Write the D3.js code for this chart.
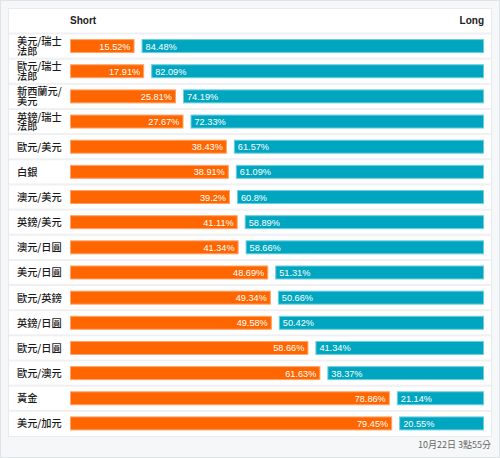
<!DOCTYPE html>
<html><head><meta charset="utf-8">
<script src="https://cdn.jsdelivr.net/npm/d3@7"></script>
<style>
body{margin:0;background:#fff;}
svg{display:block;}
</style></head>
<body>
<script>
const labels = [["美元/瑞士","法郎"],["歐元/瑞士","法郎"],["新西蘭元/","美元"],["英鎊/瑞士","法郎"],["歐元/美元"],["白銀"],["澳元/美元"],["英鎊/美元"],["澳元/日圓"],["美元/日圓"],["歐元/英鎊"],["英鎊/日圓"],["歐元/日圓"],["歐元/澳元"],["黃金"],["美元/加元"]];
const shortVals = [15.52,17.91,25.81,27.67,38.43,38.91,39.2,41.11,41.34,48.69,49.34,49.58,58.66,61.63,78.86,79.45];
const longVals = [84.48,82.09,74.19,72.33,61.57,61.09,60.8,58.89,58.66,51.31,50.66,50.42,41.34,38.37,21.14,20.55];
const headers = ["Short","Long"];
const stamp = "10月22日 3點55分";

const W=500,H=458;
const svg=d3.select("body").append("svg").attr("width",W).attr("height",H);
const font="'Noto Sans CJK TC','Liberation Sans',Arial,sans-serif";
svg.append("rect").attr("x",0.5).attr("y",0.5).attr("width",W-1).attr("height",H-1).attr("fill","#f5f7f8").attr("stroke","#dfe4e7");
svg.append("rect").attr("x",8.5).attr("y",8.5).attr("width",483).attr("height",428).attr("fill","#fff").attr("stroke","#e8ebed");

const x0=70,x1=484;
const x=d3.scaleLinear().domain([0,100]).range([0,403]);
const y=d3.scaleBand().domain(d3.range(labels.length)).range([33.5,436]).padding(0);

svg.append("text").attr("x",x0).attr("y",24).attr("font-family","'Liberation Sans',Arial,sans-serif").attr("font-weight","bold").attr("font-size",10).attr("fill","#222").text(headers[0]);
svg.append("text").attr("x",x1).attr("y",24).attr("text-anchor","end").attr("font-family","'Liberation Sans',Arial,sans-serif").attr("font-weight","bold").attr("font-size",10).attr("fill","#222").text(headers[1]);

const rows=svg.selectAll("g.row").data(labels).join("g").attr("class","row").attr("transform",(d,i)=>`translate(0,${y(i)})`);
rows.append("rect").attr("x",9).attr("y",-1).attr("width",482).attr("height",2).attr("fill","#eef0f1");
const bh=y.bandwidth(), barH=14, by=(bh-barH)/2+0.5;
rows.each(function(d,i){
  const g=d3.select(this);
  const lines=d;
  const lh=9.8;
  const fs=10.2;
  const startY = bh/2 - (lines.length-1)*lh/2 + fs*0.38;
  const t=g.append("text").attr("x",17).attr("y",startY).attr("font-family",font).attr("font-size",fs).attr("font-weight","500").attr("fill","#1a1a1a");
  lines.forEach((s,k)=>{
    t.append("tspan").attr("x",17).attr("y",startY+k*lh).text(s);
  });
  const sw=x(shortVals[i])+2, lw=x(longVals[i])+2;
  g.append("rect").attr("x",x0+0.5).attr("y",by).attr("width",sw-1).attr("height",barH-1).attr("fill","#ff6600").attr("stroke","#ffa46b").attr("stroke-width",1);
  g.append("rect").attr("x",x1-lw+0.5).attr("y",by).attr("width",lw-1).attr("height",barH-1).attr("fill","#00a6c0").attr("stroke","#6dcfdd").attr("stroke-width",1);
  g.append("text").attr("x",x0+sw-4).attr("y",by+10).attr("text-anchor","end").attr("font-family","'Liberation Sans',Arial,sans-serif").attr("font-size",9.2).attr("fill","#fff").text(shortVals[i]+"%");
  g.append("text").attr("x",x1-lw+4).attr("y",by+10).attr("font-family","'Liberation Sans',Arial,sans-serif").attr("font-size",9.2).attr("fill","#fff").text(longVals[i]+"%");
});
svg.append("text").attr("x",491).attr("y",448).attr("text-anchor","end").attr("font-family",font).attr("font-size",9).attr("fill","#666").text(stamp);
</script>
</body></html>
